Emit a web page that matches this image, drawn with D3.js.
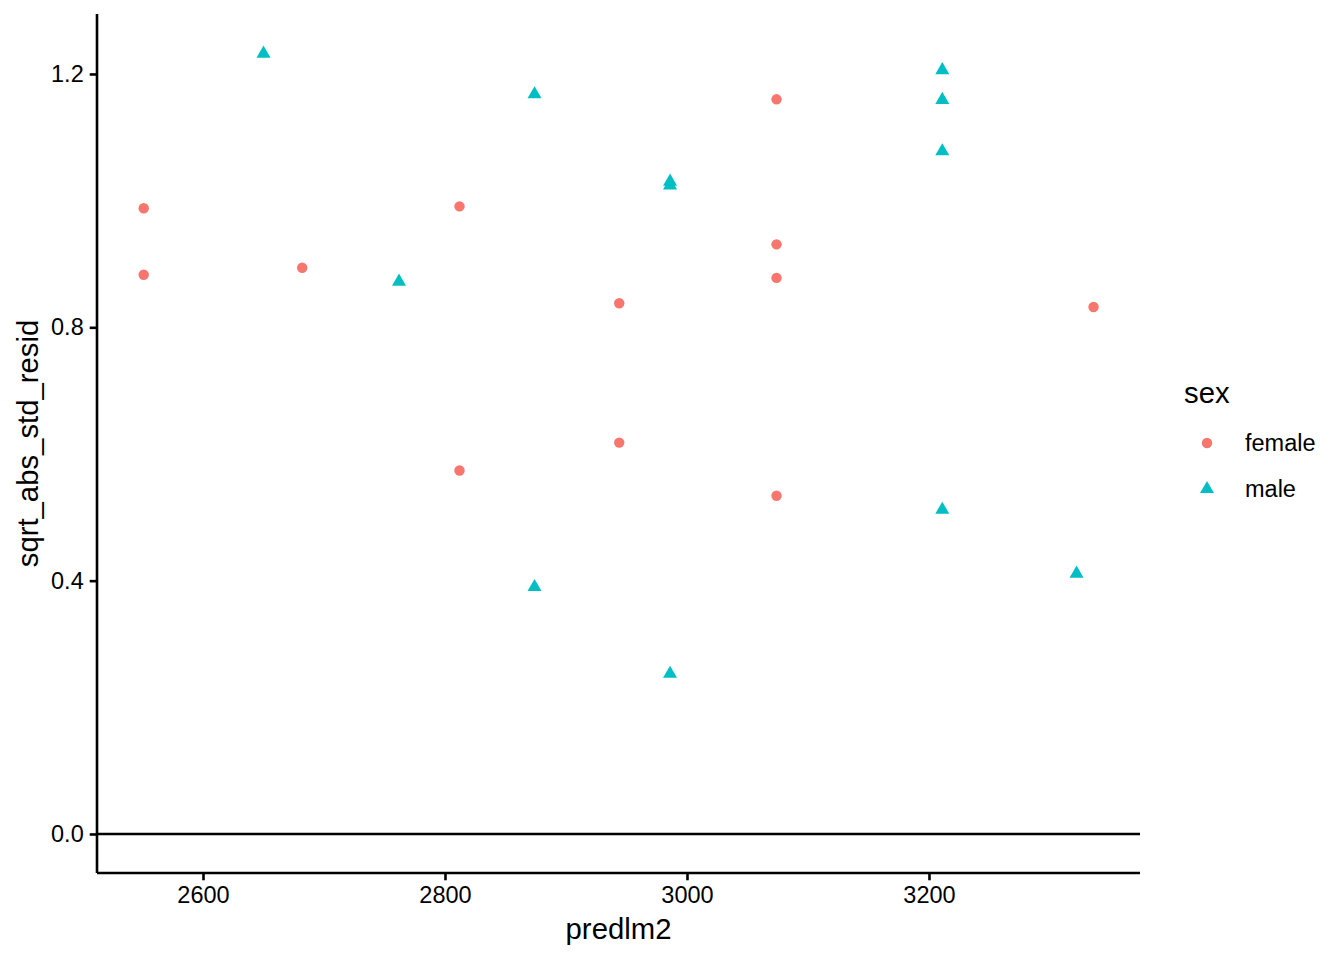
<!DOCTYPE html>
<html>
<head>
<meta charset="utf-8">
<script src="https://cdn.jsdelivr.net/npm/d3@7"></script>
<style>
  body { margin: 0; background: #fff; }
  svg { font-family: "Liberation Sans", Arial, sans-serif; }
</style>
</head>
<body>
<svg width="1344" height="960"></svg>
<script>
// values
const femaleX = [2551, 2551, 2682, 2812, 2812, 2944, 2944, 3074, 3074, 3074, 3074, 3336];
const femaleY = [0.988, 0.883, 0.894, 0.991, 0.574, 0.838, 0.618, 1.160, 0.931, 0.878, 0.534, 0.832];
const maleX = [2650, 2874, 2762, 2986, 2986, 2986, 2874, 3211, 3211, 3211, 3211, 3322];
const maleY = [1.232, 1.168, 0.872, 1.030, 1.024, 0.253, 0.390, 1.206, 1.159, 1.078, 0.512, 0.411];
const xTicks = [2600, 2800, 3000, 3200];
const yTicks = [0.0, 0.4, 0.8, 1.2];
const groups = ["female", "male"];
const colors = ["#F8766D", "#00BFC4"];

const svg = d3.select("svg");
const panel = {left: 97, right: 1140, top: 14, bottom: 873};

const x = d3.scaleLinear().domain([2512.4, 3374.4]).range([panel.left, panel.right]);
const y = d3.scaleLinear().domain([-0.0616, 1.2947]).range([panel.bottom, panel.top]);

const symCircle = d3.symbol().type(d3.symbolCircle).size(85);
const symTri = d3.symbol().type(d3.symbolTriangle).size(85);

// reference line at 0
svg.append("line")
  .attr("x1", panel.left).attr("x2", panel.right)
  .attr("y1", y(0)).attr("y2", y(0))
  .attr("stroke", "#000").attr("stroke-width", 2.6);

// points
const female = femaleX.map((v, i) => ({x: v, y: femaleY[i]}));
const male = maleX.map((v, i) => ({x: v, y: maleY[i]}));

svg.selectAll("path.female")
  .data(female).enter().append("path")
  .attr("class", "female")
  .attr("d", symCircle)
  .attr("transform", d => `translate(${x(d.x)},${y(d.y)})`)
  .attr("fill", colors[0]);

svg.selectAll("path.male")
  .data(male).enter().append("path")
  .attr("class", "male")
  .attr("d", symTri)
  .attr("transform", d => `translate(${x(d.x)},${y(d.y)})`)
  .attr("fill", colors[1]);

// axes
const xAxis = svg.append("g")
  .attr("transform", `translate(0,${panel.bottom})`)
  .call(d3.axisBottom(x).tickValues(xTicks).tickSize(7.3).tickPadding(6).tickFormat(d3.format("d")));
const yAxis = svg.append("g")
  .attr("transform", `translate(${panel.left},0)`)
  .call(d3.axisLeft(y).tickValues(yTicks).tickSize(7.3).tickPadding(6).tickFormat(d3.format(".1f")));

[xAxis, yAxis].forEach(g => {
  g.select(".domain").attr("stroke", "#000").attr("stroke-width", 2.6);
  g.selectAll(".tick line").attr("stroke", "#000").attr("stroke-width", 2.6);
  g.selectAll(".tick text").attr("fill", "#000").style("font-size", "23.5px");
});
xAxis.select(".domain").attr("d", `M${panel.left},0H${panel.right}`);
yAxis.select(".domain").attr("d", `M0,${panel.top}V${panel.bottom}`);

// axis titles
svg.append("text")
  .attr("x", (panel.left + panel.right) / 2).attr("y", 939)
  .attr("text-anchor", "middle")
  .style("font-size", "29.3px")
  .text("predlm2");

svg.append("text")
  .attr("transform", `translate(38,${(panel.top + panel.bottom) / 2}) rotate(-90)`)
  .attr("text-anchor", "middle")
  .style("font-size", "29.3px")
  .text("sqrt_abs_std_resid");

// legend
svg.append("text")
  .attr("x", 1184).attr("y", 403)
  .style("font-size", "29.3px")
  .text("sex");

const legend = svg.selectAll("g.key")
  .data(groups).enter().append("g")
  .attr("class", "key")
  .attr("transform", (d, i) => `translate(1207,${443 + i * 46})`);

legend.append("path")
  .attr("d", (d, i) => i === 0 ? symCircle() : symTri())
  .attr("fill", (d, i) => colors[i]);

legend.append("text")
  .attr("x", 38).attr("dy", "0.35em")
  .style("font-size", "23.5px")
  .text(d => d);
</script>
</body>
</html>
